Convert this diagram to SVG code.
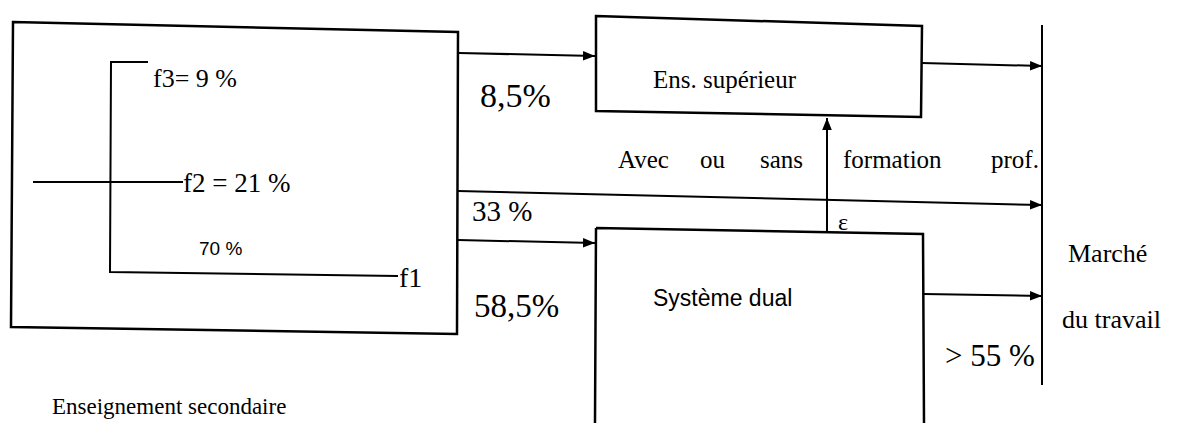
<svg xmlns="http://www.w3.org/2000/svg" width="1187" height="423" viewBox="0 0 1187 423">
<defs>
<marker id="ah" viewBox="0 0 10 10" refX="10" refY="5" markerWidth="12" markerHeight="12" markerUnits="userSpaceOnUse" orient="auto">
<path d="M0,1 L10,5 L0,9 z" fill="#000"/>
</marker>
<style>
.ln{stroke:#000;stroke-width:2;fill:none}
.bx{stroke:#000;stroke-width:2.5;fill:#fff}
.sf{font-family:"Liberation Serif",serif;fill:#000}
.ss{font-family:"Liberation Sans",sans-serif;fill:#000}
</style>
</defs>
<rect width="1187" height="423" fill="#fff"/>
<g id="secondaire">
<path class="bx" d="M13,22 L458,32 L457,334 L11,327 Z"/>
<path class="ln" d="M148,62 L111,62 L110,272 L398,276"/>
<path class="ln" d="M33,182 L183,182"/>
<text class="sf" x="153" y="87" font-size="26">f3= 9 %</text>
<text class="sf" x="183" y="192" font-size="27">f2 = 21 %</text>
<text class="ss" x="199" y="255" font-size="19">70 %</text>
<text class="sf" x="399" y="287" font-size="28">f1</text>
<text class="sf" x="52" y="414" font-size="23">Enseignement secondaire</text>
</g>
<g id="superieur">
<path class="bx" d="M596,16 L922,26 L921,117 L596,111 Z"/>
<text class="sf" x="653" y="88" font-size="25">Ens. supérieur</text>
</g>
<g id="dual">
<path class="bx" d="M596,228 L923,234 L924,423 M595,423 L596,228"/>
<text class="ss" x="653" y="306" font-size="23">Système dual</text>
</g>
<g id="marche">
<path class="ln" d="M1042,25 L1042,385"/>
<text class="sf" x="1068" y="262" font-size="26">Marché</text>
<text class="sf" x="1062" y="328" font-size="26">du travail</text>
</g>
<g id="connectors">
<path class="ln" d="M459,53 L595,56" marker-end="url(#ah)"/>
<path class="ln" d="M922,63 L1042,66" marker-end="url(#ah)"/>
<path class="ln" d="M458,191 L1042,205" marker-end="url(#ah)"/>
<path class="ln" d="M458,240 L595,243" marker-end="url(#ah)"/>
<path class="ln" d="M924,294 L1042,296" marker-end="url(#ah)"/>
<path class="ln" d="M827,232 L827,118" marker-end="url(#ah)"/>
<text class="sf" x="480" y="107" font-size="34">8,5%</text>
<text class="sf" x="472" y="221" font-size="29">33 %</text>
<text class="sf" x="474" y="317" font-size="33">58,5%</text>
<text class="sf" x="945" y="366" font-size="31">&gt; 55 %</text>
<text class="sf" x="838" y="230" font-size="24">ε</text>
<g class="sf" font-size="25">
<text x="618" y="168">Avec</text>
<text x="700" y="168">ou</text>
<text x="760" y="168">sans</text>
<text x="843" y="168">formation</text>
<text x="991" y="168">prof.</text>
</g>
</g>
</svg>
